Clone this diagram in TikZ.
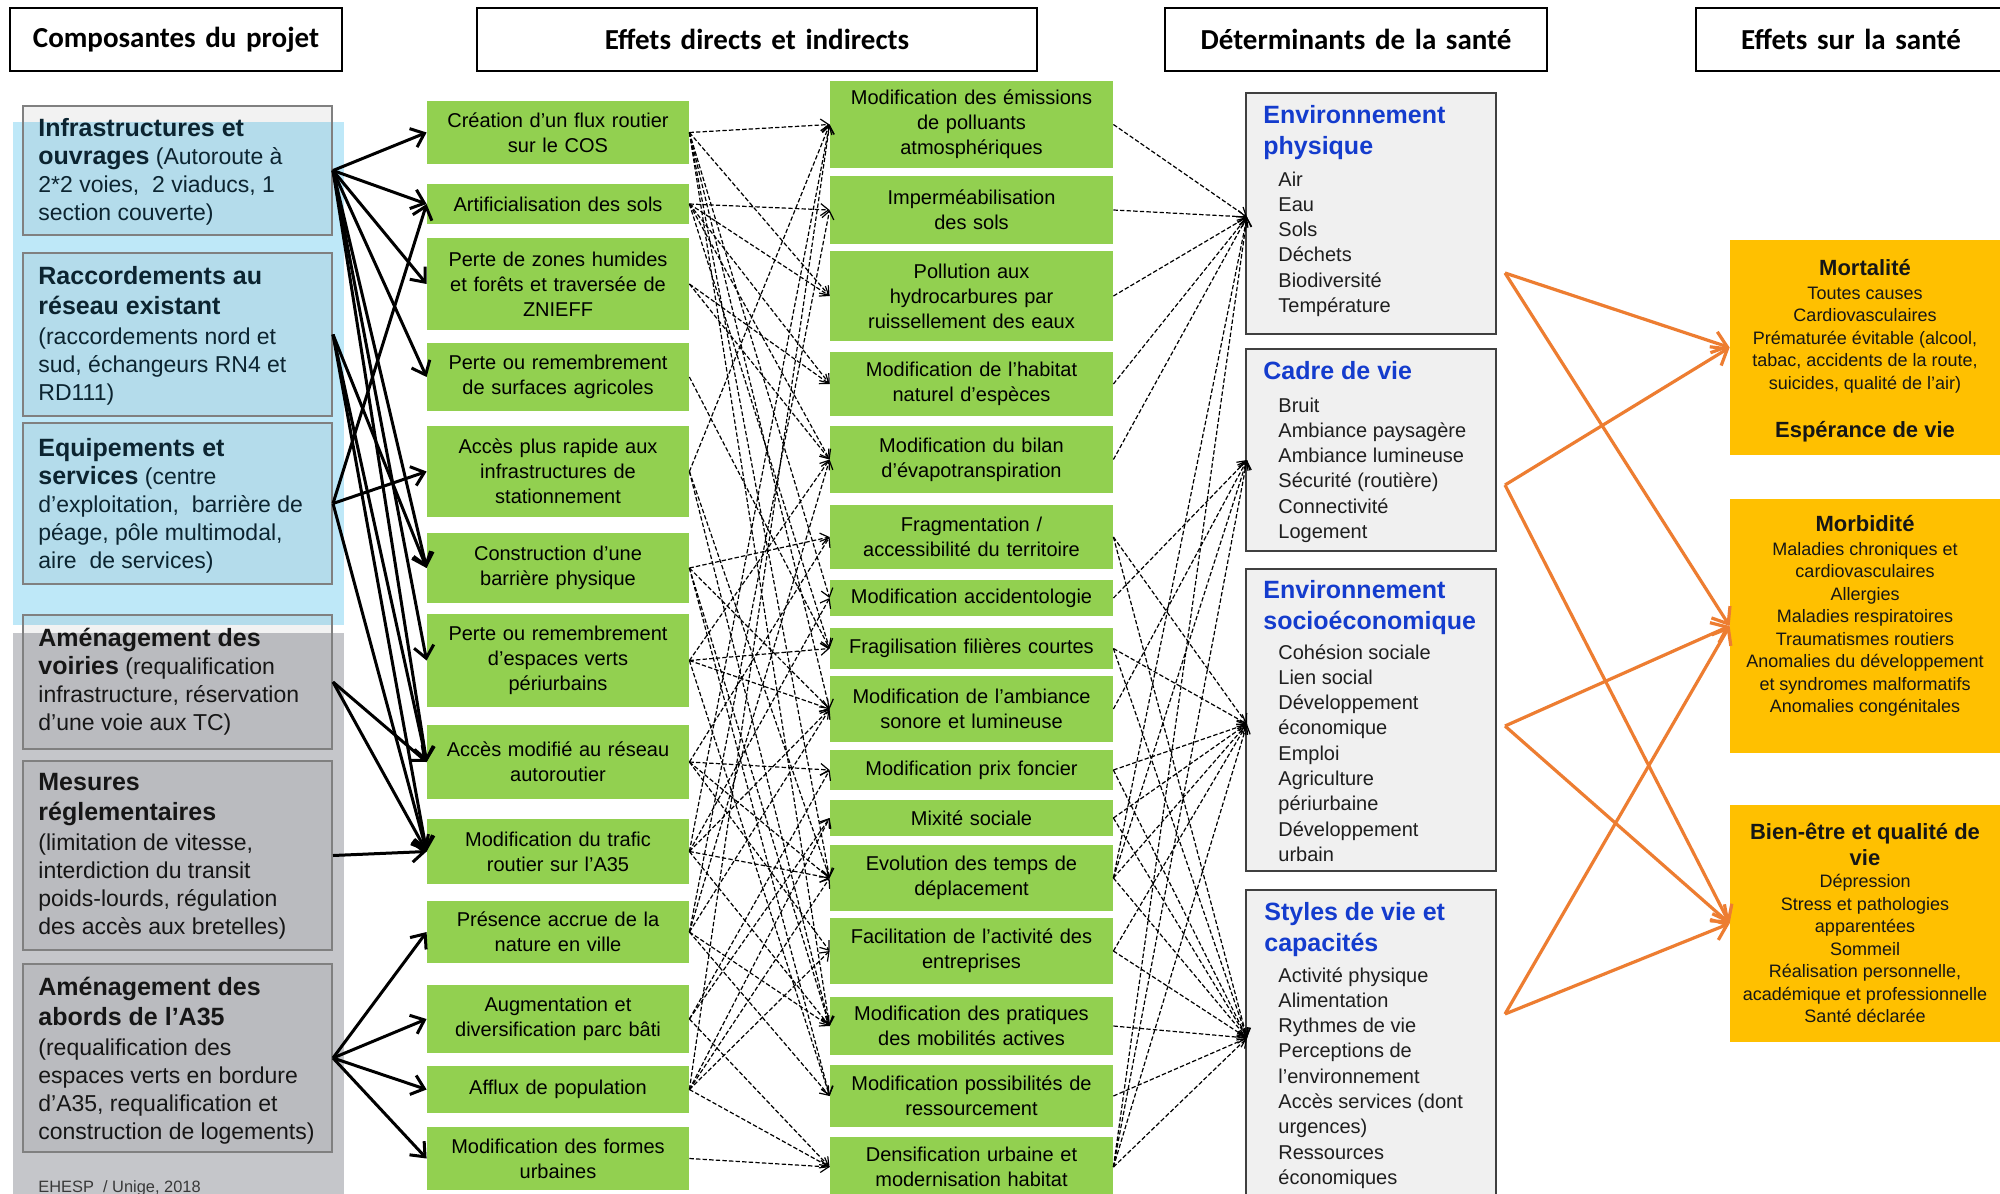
\documentclass[tikz,border=0pt]{standalone}
\usepackage{fontspec}
\setmainfont{Liberation Sans}
\newfontfamily\hdrfont{Carlito}
\usetikzlibrary{arrows.meta}

\definecolor{gfill}{RGB}{146,208,80}
\definecolor{ofill}{RGB}{255,192,0}
\definecolor{oline}{RGB}{237,125,49}
\definecolor{dfill}{RGB}{240,240,240}
\definecolor{dline}{RGB}{64,64,64}
\definecolor{dblue}{RGB}{20,60,205}
\definecolor{bluebg}{RGB}{190,232,248}
\definecolor{graybg}{RGB}{197,198,202}
\definecolor{boxline}{RGB}{128,128,128}
\definecolor{ltxtb}{RGB}{12,36,48}
\definecolor{ltxtg}{RGB}{22,22,22}
\definecolor{itemtxt}{RGB}{30,30,30}

\newcommand\fs[2]{\fontsize{#1}{#2}\selectfont}
\newcommand\ttl[1]{{\fs{12.5pt}{14pt}\bfseries #1}}

% box from corner (x1,y1) to (x2,y2), in pixel units
\newcommand\bx[7]{%
  \pgfmathsetmacro\bxw{(#5-#3)/2}%
  \pgfmathsetmacro\bxh{(#6-#4)/2}%
  \pgfmathsetmacro\bxt{\bxw-6}%
  \node[#1, minimum width=\bxw pt, minimum height=\bxh pt, text width=\bxt pt]
    (#2) at ({(#3+#5)/2},{(#4+#6)/2}) {#7};%
}

\tikzset{
  hdr/.style={draw=black, line width=1pt, fill=white, inner sep=0, align=center,
    font=\hdrfont\bfseries\fs{14.5pt}{16pt}},
  gbox/.style={fill=gfill, inner sep=0, align=center, font=\fs{10pt}{12.5pt}},
  lbox/.style={draw=boxline, line width=1pt, fill=black, fill opacity=0.05, inner sep=0},
  dbox/.style={draw=dline, line width=1pt, fill=dfill, inner sep=0},
  hbox/.style={fill=ofill, inner sep=0},
  ltext/.style={anchor=base west, inner sep=0},
  dtitle/.style={anchor=base west, inner sep=0, text=dblue},
  solid arrow/.style={line width=1.5pt, -{Straight Barb[length=6pt,width=10pt]}},
  dash arrow/.style={line width=0.6pt, dash pattern=on 2.2pt off 1.1pt,
    -{Straight Barb[length=4pt,width=6pt]}},
  orange arrow/.style={draw=oline, line width=1.6pt,
    -{Straight Barb[length=7pt,width=11pt]}},
}

\begin{document}
\begin{tikzpicture}[x=0.5pt, y=-0.5pt]
\useasboundingbox (0,0) rectangle (2000,1193);
\fill[white] (0,0) rectangle (2000,1193);

% ---------- column headers ----------
\bx{hdr}{h1}{10}{8}{342}{71}{Composantes du projet}
\bx{hdr}{h2}{477}{8}{1037}{71}{Effets directs et indirects}
\bx{hdr}{h3}{1165}{8}{1547}{71}{Déterminants de la santé}
\bx{hdr}{h4}{1696}{8}{2006}{71}{Effets sur la santé}

% ---------- project components ----------
\fill[bluebg] (13,122) rectangle (344,625);
\fill[graybg] (13,633) rectangle (344,1200);

\bx{lbox}{P1}{23}{106}{332}{235}{}
\bx{lbox}{P2}{23}{253}{332}{416}{}
\bx{lbox}{P3}{23}{423}{332}{584}{}
\bx{lbox}{P4}{23}{615}{332}{749}{}
\bx{lbox}{P5}{23}{761}{332}{950}{}
\bx{lbox}{P6}{23}{964}{332}{1152}{}

\node[ltext, text=ltxtb] (P1t) at (38,136) {\parbox[t]{160pt}{\fs{11.5pt}{14pt}\raggedright
  \ttl{Infrastructures et}\\
  \ttl{ouvrages} (Autoroute à\\
  2*2 voies,\ \ 2 viaducs, 1\\
  section couverte)}};
\node[ltext, text=ltxtb] (P2t) at (38,284) {\parbox[t]{160pt}{\fs{11.5pt}{14pt}\raggedright
  \ttl{Raccordements au}\\[1pt]
  \ttl{réseau existant}\\[1pt]
  (raccordements nord et\\
  sud, échangeurs RN4 et\\
  RD111)}};
\node[ltext, text=ltxtb] (P3t) at (38,456) {\parbox[t]{160pt}{\fs{11.5pt}{14pt}\raggedright
  \ttl{Equipements et}\\
  \ttl{services} (centre\\
  d’exploitation,\ \ barrière de\\
  péage, pôle multimodal,\\
  aire\ \ de services)}};
\node[ltext, text=ltxtg] (P4t) at (38,646) {\parbox[t]{160pt}{\fs{11.5pt}{14pt}\raggedright
  \ttl{Aménagement des}\\
  \ttl{voiries} (requalification\\
  infrastructure, réservation\\
  d’une voie aux TC)}};
\node[ltext, text=ltxtg] (P5t) at (38,790) {\parbox[t]{160pt}{\fs{11.5pt}{14pt}\raggedright
  \ttl{Mesures}\\[1pt]
  \ttl{réglementaires}\\[1pt]
  (limitation de vitesse,\\
  interdiction du transit\\
  poids-lourds, régulation\\
  des accès aux bretelles)}};
\node[ltext, text=ltxtg] (P6t) at (38,995) {\parbox[t]{160pt}{\fs{11.5pt}{14pt}\raggedright
  \ttl{Aménagement des}\\[1pt]
  \ttl{abords de l’A35}\\[1pt]
  (requalification des\\
  espaces verts en bordure\\
  d’A35,\ requalification et\\
  construction de logements)}};
\node[ltext, text=ltxtg!85!white, font=\fs{8.2pt}{10pt}] (cr) at (38,1192) {EHESP\ \ / Unige, 2018};

% ---------- direct effects ----------
\bx{gbox}{A1}{427}{101}{689}{164}{Création d’un flux routier\\sur le COS}
\bx{gbox}{A2}{427}{184}{689}{224}{Artificialisation des sols}
\bx{gbox}{A3}{427}{238}{689}{330}{Perte de zones humides\\et forêts et traversée de\\ZNIEFF}
\bx{gbox}{A4}{427}{343}{689}{411}{Perte ou remembrement\\de surfaces agricoles}
\bx{gbox}{A5}{427}{426}{689}{517}{Accès plus rapide aux\\infrastructures de\\stationnement}
\bx{gbox}{A6}{427}{533}{689}{603}{Construction d’une\\barrière physique}
\bx{gbox}{A7}{427}{614}{689}{707}{Perte ou remembrement\\d’espaces verts\\périurbains}
\bx{gbox}{A8}{427}{725}{689}{799}{Accès modifié au réseau\\autoroutier}
\bx{gbox}{A9}{427}{819}{689}{884}{Modification du trafic\\routier sur l’A35}
\bx{gbox}{A10}{427}{901}{689}{963}{Présence accrue de la\\nature en ville}
\bx{gbox}{A11}{427}{985}{689}{1053}{Augmentation et\\diversification parc bâti}
\bx{gbox}{A12}{427}{1066}{689}{1113}{Afflux de population}
\bx{gbox}{A13}{427}{1127}{689}{1190}{Modification des formes\\urbaines}

% ---------- indirect effects ----------
\bx{gbox}{B1}{830}{81}{1113}{168}{Modification des émissions\\de polluants\\atmosphériques}
\bx{gbox}{B2}{830}{176}{1113}{244}{Imperméabilisation\\des sols}
\bx{gbox}{B3}{830}{251}{1113}{341}{Pollution aux\\hydrocarbures par\\ruissellement des eaux}
\bx{gbox}{B4}{830}{352}{1113}{416}{Modification de l’habitat\\naturel d’espèces}
\bx{gbox}{B5}{830}{426}{1113}{493}{Modification du bilan\\d’évapotranspiration}
\bx{gbox}{B6}{830}{505}{1113}{569}{Fragmentation /\\accessibilité du territoire}
\bx{gbox}{B7}{830}{580}{1113}{616}{Modification accidentologie}
\bx{gbox}{B8}{830}{628}{1113}{669}{Fragilisation filières courtes}
\bx{gbox}{B9}{830}{676}{1113}{742}{Modification de l’ambiance\\sonore et lumineuse}
\bx{gbox}{B10}{830}{750}{1113}{790}{Modification prix foncier}
\bx{gbox}{B11}{830}{800}{1113}{836}{Mixité sociale}
\bx{gbox}{B12}{830}{845}{1113}{911}{Evolution des temps de\\déplacement}
\bx{gbox}{B13}{830}{918}{1113}{984}{Facilitation de l’activité des\\entreprises}
\bx{gbox}{B14}{830}{997}{1113}{1055}{Modification des pratiques\\des mobilités actives}
\bx{gbox}{B15}{830}{1065}{1113}{1127}{Modification possibilités de\\ressourcement}
\bx{gbox}{B16}{830}{1137}{1113}{1197}{Densification urbaine et\\modernisation habitat}

% ---------- health determinants ----------
\bx{dbox}{D1}{1246}{93}{1496}{334}{}
\bx{dbox}{D2}{1246}{349}{1496}{551}{}
\bx{dbox}{D3}{1246}{569}{1496}{871}{}
\bx{dbox}{D4}{1246}{890}{1496}{1240}{}

\node[dtitle] (D1t) at (1263,124) {\parbox[t]{115pt}{\fs{12.5pt}{15.5pt}\bfseries Environnement\\physique}};
\node[ltext, text=itemtxt] (D1i) at (1278,186) {\parbox[t]{105pt}{\fs{10pt}{12.65pt}Air\\Eau\\Sols\\Déchets\\Biodiversité\\Température}};
\node[dtitle] (D2t) at (1263,379) {\parbox[t]{115pt}{\fs{12.5pt}{15.5pt}\bfseries Cadre de vie}};
\node[ltext, text=itemtxt] (D2i) at (1278,412) {\parbox[t]{105pt}{\fs{10pt}{12.65pt}Bruit\\Ambiance paysagère\\Ambiance lumineuse\\Sécurité (routière)\\Connectivité\\Logement}};
\node[dtitle] (D3t) at (1263,598) {\parbox[t]{115pt}{\fs{12.5pt}{15.5pt}\bfseries Environnement\\socioéconomique}};
\node[ltext, text=itemtxt] (D3i) at (1278,659) {\parbox[t]{105pt}{\fs{10pt}{12.65pt}Cohésion sociale\\Lien social\\Développement\\économique\\Emploi\\Agriculture\\périurbaine\\Développement\\urbain}};
\node[dtitle] (D4t) at (1264,920) {\parbox[t]{115pt}{\fs{12.5pt}{15.5pt}\bfseries Styles de vie et\\capacités}};
\node[ltext, text=itemtxt] (D4i) at (1278,982) {\parbox[t]{105pt}{\fs{10pt}{12.65pt}Activité physique\\Alimentation\\Rythmes de vie\\Perceptions de\\l’environnement\\Accès services (dont\\urgences)\\Ressources\\économiques}};

% ---------- health effects ----------
\bx{hbox}{H1}{1730}{240}{2000}{455}{}
\bx{hbox}{H2}{1730}{499}{2000}{753}{}
\bx{hbox}{H3}{1730}{805}{2000}{1042}{}

\node[anchor=base, inner sep=0, text=ltxtg] (H1t) at (1865,275) {\parbox[t]{134pt}{\centering\fs{9pt}{11.25pt}%
  {\fs{11pt}{12pt}\bfseries Mortalité}\\[0.75pt]
  Toutes causes\\
  Cardiovasculaires\\
  Prématurée évitable (alcool,\\
  tabac, accidents de la route,\\
  suicides, qualité de l’air)\\[13pt]
  {\fs{11pt}{12pt}\bfseries Espérance de vie}}};
\node[anchor=base, inner sep=0, text=ltxtg] (H2t) at (1865,531) {\parbox[t]{134pt}{\centering\fs{9pt}{11.25pt}%
  {\fs{11pt}{12pt}\bfseries Morbidité}\\[0.75pt]
  Maladies chroniques et\\
  cardiovasculaires\\
  Allergies\\
  Maladies respiratoires\\
  Traumatismes routiers\\
  Anomalies du développement\\
  et syndromes malformatifs\\
  Anomalies congénitales}};
\node[anchor=base, inner sep=0, text=ltxtg] (H3t) at (1865,839) {\parbox[t]{134pt}{\centering\fs{9pt}{11.25pt}%
  {\fs{11pt}{13pt}\bfseries Bien-être et qualité de}\\[1.75pt]
  {\fs{11pt}{13pt}\bfseries vie}\\
  Dépression\\
  Stress et pathologies\\
  apparentées\\
  Sommeil\\
  Réalisation personnelle,\\
  académique\ et professionnelle\\
  Santé déclarée}};

% ---------- project components -> direct effects ----------
\foreach \s/\t in {P1/A1, P1/A2, P1/A3, P1/A4, P1/A6, P1/A7, P1/A8,
                   P2/A6, P2/A8, P2/A9,
                   P3/A2, P3/A5, P3/A9,
                   P4/A8, P4/A9,
                   P5/A9,
                   P6/A10, P6/A11, P6/A12, P6/A13}
  \draw[solid arrow] (\s.east) -- (\t.west);

% ---------- direct -> indirect effects ----------
\foreach \s/\t in {A1/B1, A1/B3, A1/B7, A1/B9, A1/B12, A1/B14,
                   A2/B2, A2/B3, A2/B4, A2/B5, A2/B8,
                   A3/B4, A3/B5,
                   A4/B8,
                   A5/B1, A5/B12, A5/B14,
                   A6/B6, A6/B9, A6/B14, A6/B15,
                   A7/B5, A7/B8, A7/B9, A7/B15,
                   A8/B6, A8/B10, A8/B12, A8/B13,
                   A9/B1, A9/B7, A9/B9, A9/B12, A9/B14,
                   A10/B2, A10/B5, A10/B9, A10/B14, A10/B15,
                   A11/B10, A11/B11, A11/B16,
                   A12/B1, A12/B11, A12/B12, A12/B13, A12/B16,
                   A13/B16}
  \draw[dash arrow] (\s.east) -- (\t.west);

% ---------- indirect effects -> determinants ----------
\coordinate (D1in) at (1247,217);
\coordinate (D2in) at (1247,460);
\coordinate (D3in) at (1247,724);
\coordinate (D4in) at (1247,1038);
\foreach \s/\t in {B1/D1, B2/D1, B3/D1, B4/D1, B5/D1,
                   B6/D3, B6/D4, B7/D2, B8/D3, B8/D4, B9/D2,
                   B10/D3, B10/D4, B11/D3, B11/D4,
                   B12/D1, B12/D2, B12/D3, B12/D4,
                   B13/D3, B13/D4, B14/D4, B15/D4,
                   B16/D1, B16/D2, B16/D3, B16/D4}
  \draw[dash arrow] (\s.east) -- (\t in);

% ---------- determinants -> health effects ----------
\coordinate (O1) at (1505,273);
\coordinate (O2) at (1505,485);
\coordinate (O3) at (1505,726);
\coordinate (O4) at (1505,1014);
\foreach \s/\t in {O1/H1, O1/H2, O2/H1, O2/H3, O3/H2, O3/H3, O4/H2, O4/H3}
  \draw[orange arrow] (\s) -- (\t.west);
\end{tikzpicture}
\end{document}
